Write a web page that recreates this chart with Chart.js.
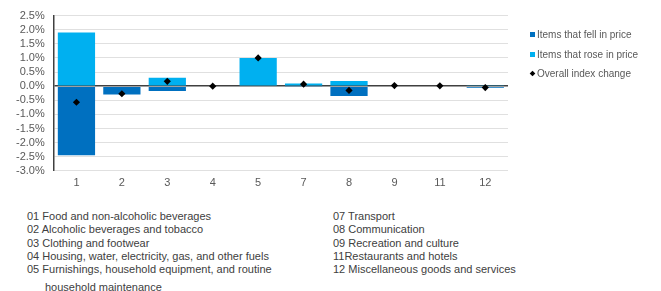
<!DOCTYPE html>
<html>
<head>
<meta charset="utf-8">
<script src="https://cdn.jsdelivr.net/npm/chart.js@4"></script>
<style>
  body { margin: 0; background: #fff; font-family: "Liberation Sans", Arial, sans-serif; }
  #wrap { position: relative; width: 661px; height: 200px; }
  .notes { position: absolute; font-size: 11px; color: #404040; line-height: 13.3px; }
  .indent { padding-left: 18px; margin-top: 5px; }
  #legend { position: absolute; left: 530px; top: 28px; font-size: 10px; color: #595959; }
  #legend div { height: 19.5px; line-height: 14px; white-space: nowrap; }
  #legend span.mk { display: inline-block; width: 5px; height: 5px; margin-right: 2px; vertical-align: 1px; }
  #legend span.dia { transform: rotate(45deg) scale(0.8); }
</style>
</head>
<body>
<div id="wrap"><canvas id="myBar"></canvas><div id="legend"></div></div>
<div class="notes" style="left:27px; top:210px;">
  01 Food and non-alcoholic beverages<br>
  02 Alcoholic beverages and tobacco<br>
  03 Clothing and footwear<br>
  04 Housing, water, electricity, gas, and other fuels<br>
  05 Furnishings, household equipment, and routine
  <div class="indent">household maintenance</div>
</div>
<div class="notes" style="left:333px; top:210px;">
  07 Transport<br>
  08 Communication<br>
  09 Recreation and culture<br>
  11Restaurants and hotels<br>
  12 Miscellaneous goods and services
</div>
<script>
const categories = ["1", "2", "3", "4", "5", "7", "8", "9", "11", "12"];
const fellInPrice = [-2.45, -0.3, -0.17, 0, 0, -0.02, -0.35, 0, 0, -0.06];
const roseInPrice = [1.9, 0, 0.3, 0, 1.0, 0.09, 0.18, 0, 0, 0.01];
const overallChange = [-0.57, -0.27, 0.17, 0, 1.0, 0.07, -0.15, 0.02, 0.01, -0.05];

const fontFam = '"Liberation Sans", Arial, sans-serif'

const cvs = document.getElementById('myBar');
const chart = new Chart(cvs, {
    data: {
        labels: categories,
        datasets: [{
            type: 'bar',
            label: 'Items that fell in price',
            data: fellInPrice,
            backgroundColor: '#0070C0',
            stack: 'items',
            order: 1,
            barPercentage: 0.82,
            categoryPercentage: 1
        }, {
            type: 'bar',
            label: 'Items that rose in price',
            data: roseInPrice,
            backgroundColor: '#00B0F0',
            stack: 'items',
            order: 1,
            barPercentage: 0.82,
            categoryPercentage: 1
        }, {
            type: 'line',
            label: 'Overall index change',
            data: overallChange,
            showLine: false,
            stack: 'overall',
            order: 0,
            pointStyle: 'rectRot',
            pointRadius: 3.6,
            pointBorderWidth: 0,
            pointBackgroundColor: '#000',
            backgroundColor: '#000',
            borderColor: '#000'
        }]
    },
    options: {
        responsive: true,
        maintainAspectRatio: false,
        animation: false,
        layout: { padding: { left: 7, top: 9, right: 153, bottom: 4 } },
        plugins: {
            tooltip: { enabled: false },
            legend: { display: false }
        },
        scales: {
            x: {
                stacked: true,
                grid: { display: false, drawTicks: false },
                border: { display: false },
                ticks: { color: '#595959', padding: 6, autoSkip: false, font: { family: fontFam, size: 11 } }
            },
            y: {
                stacked: true,
                min: -3,
                max: 2.5,
                border: { display: true, color: '#404040', width: 1.5 },
                grid: {
                    drawTicks: false,
                    color: ctx => ctx.tick && ctx.tick.value === 0 ? '#404040' : '#E0E0E0',
                    lineWidth: ctx => ctx.tick && ctx.tick.value === 0 ? 1.5 : 1
                },
                ticks: {
                    stepSize: 0.5,
                    autoSkip: false,
                    padding: 9,
                    color: '#595959',
                    font: { family: fontFam, size: 11 },
                    callback: v => v.toFixed(1) + '%'
                }
            }
        }
    }
});

// legend on the right, built from the datasets
const legendEl = document.getElementById('legend')
chart.data.datasets.forEach((ds) => {
    let row = document.createElement('div')
    let mk = document.createElement('span')
    mk.className = ds.type === 'line' ? 'mk dia' : 'mk'
    mk.style.background = ds.backgroundColor
    row.appendChild(mk)
    row.appendChild(document.createTextNode(ds.label))
    legendEl.appendChild(row)
})
</script>
</body>
</html>
